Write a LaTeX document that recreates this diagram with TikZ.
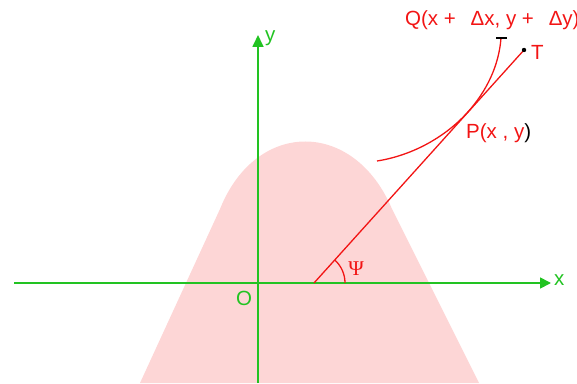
\documentclass[tikz,border=0pt]{standalone}
\usepackage{fontspec}
\setmainfont{Liberation Sans}
\newfontfamily\psifont{Liberation Serif}
\usetikzlibrary{arrows.meta}
\definecolor{axisgreen}{HTML}{22C322}
\definecolor{curvered}{HTML}{F21414}
\definecolor{bellpink}{HTML}{FDD6D6}
\begin{document}
\begin{tikzpicture}[x=1pt,y=1pt,font=\fontsize{20.5}{24}\selectfont]
\useasboundingbox (0,0) rectangle (577,383);
\clip (0,0) rectangle (577,383);
% pink bell in the background
\fill[bellpink] (140,0) -- (220,174) .. controls (256,264) and (354,264) .. (392,174) -- (479,0) -- cycle;
% axes
\coordinate (xs) at (14,100); \coordinate (xe) at (551,100);
\coordinate (ys) at (258,0); \coordinate (ye) at (258,348);
\draw[axisgreen,line width=1.7pt,-{Triangle[length=11pt,width=11pt]}] (xs) -- (xe);
\draw[axisgreen,line width=1.7pt,-{Triangle[length=12pt,width=11pt]}] (ys) -- (ye);
\node[axisgreen,anchor=west,inner sep=1pt] (xl) at (553,103) {x};
\node[axisgreen,anchor=west,inner sep=1pt] (yl) at (264,345) {y};
\node[axisgreen,inner sep=1pt] (o) at (244,85) {O};
% tangent line and curve
\coordinate (B) at (314,100); \coordinate (T) at (524,333);
\coordinate (C) at (377,222); \coordinate (P) at (467,270); \coordinate (Q) at (501,345);
\draw[curvered,line width=1.3pt] (B) -- (T);
\draw[curvered,line width=1.3pt] (C) .. controls (415,228) and (447,248) .. (P) .. controls (487,292) and (499,318) .. (Q);
\draw[line width=1.2pt] ([xshift=-5pt]Q) -- ([xshift=6pt]Q);
\fill (T) circle (2.2);
\draw[curvered,line width=1.3pt] ([xshift=31pt]B) arc[start angle=0,end angle=48,radius=31];
\node[curvered,inner sep=1pt,font=\psifont\fontsize{21}{24}\selectfont] (psi) at (356,114) {Ψ};
% labels
\node[curvered,anchor=west,inner sep=1pt] (tl) at (530,331) {T};
\node[anchor=west,inner sep=1pt] (pl) at (465,250) {\textcolor{curvered}{P(x , y}\textcolor{black}{)}};
\node[curvered,anchor=west,inner sep=1pt] (ql) at (404,363) {Q(x +\ \ \,Δx, y +\ \ \,Δy)};
\end{tikzpicture}
\end{document}
